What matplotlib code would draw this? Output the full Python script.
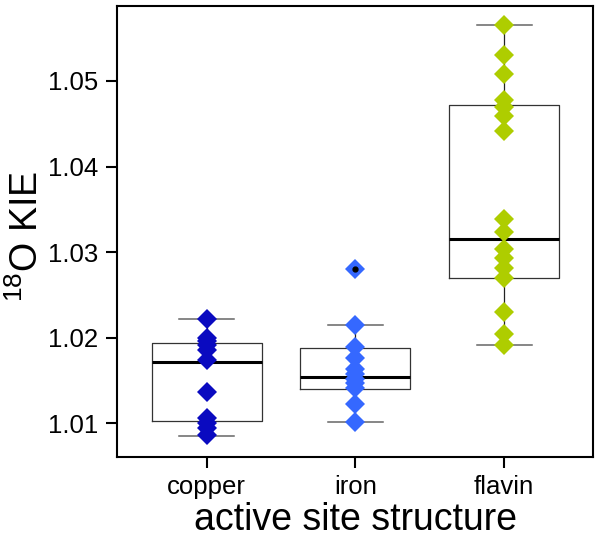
import matplotlib
matplotlib.use("Agg")
import matplotlib.pyplot as plt

plt.rcParams["font.family"] = ["Liberation Sans", "DejaVu Sans"]
plt.rcParams["mathtext.default"] = "regular"

categories = ["copper", "iron", "flavin"]
point_colors = ["#0A0AC0", "#3568FF", "#AECD00"]

# 18O KIE values per active site group
copper = [1.0222, 1.0200, 1.0196, 1.0191, 1.0186, 1.0174,
          1.0136, 1.0106, 1.0100, 1.0094, 1.0086]
iron = [1.0280, 1.0215, 1.0189, 1.0176, 1.0163, 1.0157,
        1.0152, 1.0147, 1.0141, 1.0122, 1.0102]
flavin = [1.0565, 1.0530, 1.0508, 1.0478, 1.0469, 1.0459, 1.0441,
          1.0339, 1.0324, 1.0304, 1.0293, 1.0281, 1.0270,
          1.0230, 1.0204, 1.0191]
groups = [copper, iron, flavin]

# box statistics as drawn
q1 = [1.0103, 1.0140, 1.0270]
med = [1.0172, 1.0154, 1.0315]
q3 = [1.0194, 1.0188, 1.0472]
whislo = [1.0085, 1.0102, 1.0191]
whishi = [1.0222, 1.0215, 1.0565]
outliers = [[], [1.0280], []]

stats = []
for i, name in enumerate(categories):
    stats.append({
        "label": name, "q1": q1[i], "med": med[i], "q3": q3[i],
        "whislo": whislo[i], "whishi": whishi[i], "fliers": outliers[i],
    })

fig = plt.figure(figsize=(6.0, 5.44), dpi=100)
ax = fig.add_axes([0.1955, 0.160, 0.7933, 0.829])

positions = [1, 2, 3]
ax.bxp(stats, positions=positions, widths=0.74, showfliers=True,
       boxprops=dict(color="#333333", linewidth=0.9),
       medianprops=dict(color="black", linewidth=2.2),
       whiskerprops=dict(color="#222222", linewidth=0.9),
       capprops=dict(color="#666666", linewidth=1.1),
       flierprops=dict(marker="o", markerfacecolor="black",
                       markeredgecolor="black", markersize=3.5,
                       linestyle="none", zorder=4),
       zorder=1)

for pos, vals, col in zip(positions, groups, point_colors):
    ax.plot([pos] * len(vals), vals, linestyle="none", marker="D",
            markersize=10.2, markerfacecolor=col, markeredgecolor=col,
            markeredgewidth=0, zorder=3)

ax.set_xlim(0.4, 3.6)
ax.set_ylim(1.00606, 1.05876)
ax.set_yticks([1.01, 1.02, 1.03, 1.04, 1.05])
ax.set_yticklabels(["1.01", "1.02", "1.03", "1.04", "1.05"])
ax.set_xticks(positions)
ax.set_xticklabels(categories)

for sp in ax.spines.values():
    sp.set_linewidth(1.5)
ax.tick_params(axis="both", length=8, width=1.5, labelsize=18.5)
ax.tick_params(axis="y", pad=6)
ax.tick_params(axis="x", pad=5)

ax.set_xlabel("active site structure", fontsize=27, labelpad=2)
ax.set_ylabel("$^{18}$O KIE", fontsize=27)
ax.yaxis.set_label_coords(-0.150, 0.49)

fig.savefig("out.png", dpi=100)
